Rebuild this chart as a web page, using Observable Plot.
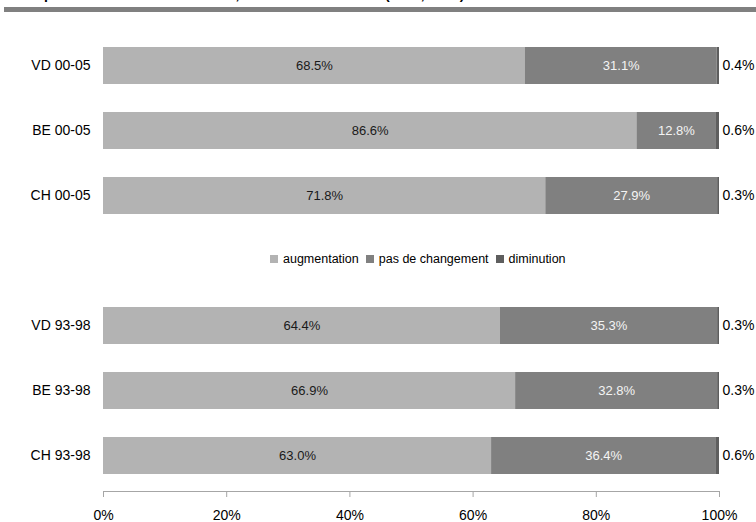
<!DOCTYPE html>
<html><head><meta charset="utf-8">
<script src="https://cdn.jsdelivr.net/npm/d3@7"></script>
<script src="https://cdn.jsdelivr.net/npm/@observablehq/plot@0.6"></script>
<style>
body{margin:0;background:#fff;font-family:"Liberation Sans",Arial,sans-serif;}
#wrap{position:relative;width:756px;height:522px;overflow:hidden;}
#title{position:absolute;left:12px;top:-13px;font-weight:bold;font-size:14px;line-height:14px;white-space:nowrap;color:#000;}
#rule{position:absolute;left:4px;right:0;top:7px;height:5px;background:#808080;}
#legend{position:absolute;left:270px;top:252px;height:14px;font-size:12.5px;line-height:14px;color:#000;white-space:nowrap;}
.item{display:inline-block;margin-right:7px;}
.sw{display:inline-block;width:8px;height:8px;margin-right:5px;vertical-align:0px;}
#chart{position:absolute;left:0;top:0;}
</style>
</head><body>
<div id="wrap">
  <div id="chart"></div>
  <div id="title"></div>
  <div id="rule"></div>
  <div id="legend"></div>
</div>
<script>
const titleText = "d'emplois : communes vaudoises, bernoises et suisses (2000, 2005).";
const categories = ["VD 00-05","BE 00-05","CH 00-05","VD 93-98","BE 93-98","CH 93-98"];
const augmentation = [68.5, 86.6, 71.8, 64.4, 66.9, 63.0];
const pasDeChangement = [31.1, 12.8, 27.9, 35.3, 32.8, 36.4];
const diminution = [0.4, 0.6, 0.3, 0.3, 0.3, 0.6];
const seriesNames = ["augmentation","pas de changement","diminution"];
const seriesColors = ["#b3b3b3","#808080","#5e5e5e"];
const xTicks = [0, 20, 40, 60, 80, 100];

document.getElementById("title").textContent = titleText;

const seriesValues = [augmentation, pasDeChangement, diminution];
const colorOf = Object.fromEntries(seriesNames.map((s,i)=>[s, seriesColors[i]]));
const rows = [];
categories.forEach((c,i)=>{
  seriesNames.forEach((s,j)=>{
    rows.push({cat:c, series:s, value:seriesValues[j][i]});
  });
});
const inner = rows.filter(d=>d.series!=="diminution");
const dimRows = categories.map((c,i)=>({cat:c, value:diminution[i], total:augmentation[i]+pasDeChangement[i]+diminution[i]}));
const GAP = " ";
const yDomain = [...categories.slice(0,3), GAP, ...categories.slice(3)];
const fmt = v => v.toFixed(1) + "%";

const chart = Plot.plot({
  width: 756, height: 522,
  marginLeft: 103, marginRight: 37, marginTop: 31, marginBottom: 31,
  style: {fontFamily: '"Liberation Sans", Arial, sans-serif', background: "transparent"},
  x: {domain: [0, 100]},
  y: {domain: yDomain, paddingInner: 0.4242, paddingOuter: 0.2},
  color: {type: "identity"},
  marks: [
    Plot.barX(rows, Plot.stackX({x: "value", y: "cat", z: "series", fill: d => colorOf[d.series]})),
    Plot.text(inner, Plot.stackX({x: "value", y: "cat", z: "series", text: d => fmt(d.value),
      fill: d => d.series === "augmentation" ? "#1a1a1a" : "#f4f4f4", fontSize: 13})),
    Plot.text(dimRows, {x: "total", y: "cat", text: d => fmt(d.value), textAnchor: "start", dx: 3, fill: "#000", fontSize: 14}),
    Plot.frame({anchor: "bottom", stroke: "#a6a6a6"}),
    Plot.axisX({ticks: xTicks, tickFormat: d => d + "%", tickSize: 6, tickPadding: 13, stroke: "#a6a6a6", fill: "#000", fontSize: 14, label: null}),
    Plot.axisY({tickSize: 0, tickPadding: 13, tickFormat: d => d === GAP ? "" : d, fontSize: 14, fill: "#000", label: null})
  ]
});
document.getElementById("chart").appendChild(chart);

const legend = document.getElementById("legend");
seriesNames.forEach((s,i)=>{
  const it = document.createElement("span");
  it.className = "item";
  const sw = document.createElement("span");
  sw.className = "sw";
  sw.style.background = seriesColors[i];
  it.appendChild(sw);
  it.appendChild(document.createTextNode(s));
  legend.appendChild(it);
});
</script>
</body></html>
